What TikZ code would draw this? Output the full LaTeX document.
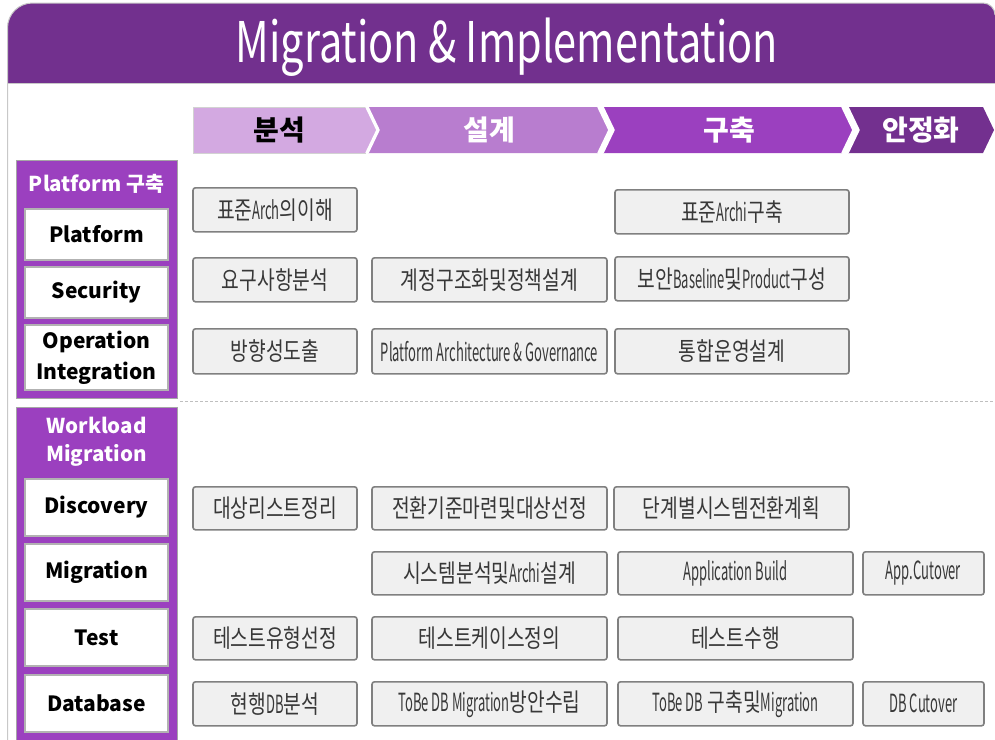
\documentclass[tikz,border=0pt]{standalone}
\usepackage{fontspec}
\setmainfont{Noto Sans CJK KR}
\newfontfamily\kr{Noto Sans CJK KR}
\newfontfamily\krbox[FakeStretch=0.77]{Noto Sans CJK KR}
\newfontfamily\latbox[FakeStretch=0.52]{Noto Sans CJK KR}
\newfontfamily\ttlfont[FakeStretch=0.74]{Noto Sans CJK KR}
\newcommand\latx[1]{{\latbox #1}}
\definecolor{hdr}{HTML}{72308E}
\definecolor{phA}{HTML}{D3A9E1}
\definecolor{phB}{HTML}{B87DCF}
\definecolor{phC}{HTML}{9B40BF}
\definecolor{phD}{HTML}{73308F}
\definecolor{sec}{HTML}{9B40BF}
\definecolor{boxfill}{HTML}{F0F0F0}
\definecolor{boxdraw}{HTML}{808080}
\definecolor{boxtext}{HTML}{383838}
\definecolor{frameln}{HTML}{C8C8C8}
\tikzset{
  gbox/.style={draw=boxdraw, fill=boxfill, line width=1.6pt, rounded corners=2.5pt, inner sep=0pt, text=boxtext, font=\krbox\fontsize{25}{27}\selectfont},
  lbl/.style={draw=gray!60, fill=white, line width=1.2pt, inner sep=0pt, align=center, text=black, font=\kr\bfseries\fontsize{21}{31}\selectfont},
  secbox/.style={draw=gray!70, fill=sec, line width=1pt, inner sep=0pt},
  phase/.style={line width=1.5pt, draw=white},
  phtext/.style={font=\kr\bfseries\fontsize{28}{30}\selectfont},
  sectitle/.style={text=white, align=center, font=\kr\bfseries\fontsize{20.5}{28}\selectfont},
}
\newcommand\gb[6]{\node[gbox,minimum width={(#4-#2)*1pt},minimum height={(#5-#3)*1pt}] (#1) at ({(#2+#4)/2},{(#3+#5)/2+0.8}) {#6};}
\newcommand\lb[6]{\node[lbl,minimum width={(#4-#2)*1pt},minimum height={(#5-#3)*1pt}] (#1) at ({(#2+#4)/2},{(#3+#5)/2}) {#6};}
\begin{document}
\begin{tikzpicture}[x=1pt,y=-1pt]
\useasboundingbox (0,0) rectangle (995,739);
\fill[white] (0,0) rectangle (995,739);
% header
\fill[hdr] (7.5,83) -- (7.5,28) arc[start angle=180,end angle=270,radius=25] -- (983,3) arc[start angle=270,end angle=360,radius=12] -- (995,83) -- cycle;
\draw[frameln, line width=1pt] (7.5,745) -- (7.5,28) arc[start angle=180,end angle=270,radius=25] -- (983,3) arc[start angle=270,end angle=360,radius=12];
\draw[frameln, line width=1pt] (7.5,83.5) -- (995,83.5);
\node[text=white, font=\ttlfont\fontsize{56}{60}\selectfont] (title) at (507,47) {Migration \& Implementation};
% phases
\fill[phA] (193,107) -- (366,107) -- (377,130) -- (366,153) -- (193,153) -- cycle;
\fill[phB] (368,107) -- (598,107) -- (609,130) -- (598,153) -- (368,153) -- (379,130) -- cycle;
\fill[phC] (603,107) -- (842,107) -- (853,130) -- (842,153) -- (603,153) -- (614,130) -- cycle;
\fill[phD] (848,107) -- (983,107) -- (994,130) -- (983,153) -- (848,153) -- (859,130) -- cycle;
\draw[gray!35, line width=0.8pt] (193,153) -- (193,107) -- (366,107);
\draw[gray!35, line width=0.8pt] (193,153) -- (366,153);
\draw[phase] (366,107) -- (377,130) -- (366,153);
\draw[phase] (598,107) -- (609,130) -- (598,153);
\draw[phase] (842,107) -- (853,130) -- (842,153);
\draw[phase] (368,107) -- (379,130) -- (368,153);
\draw[phase] (603,107) -- (614,130) -- (603,153);
\draw[phase] (848,107) -- (859,130) -- (848,153);
\node[phtext, text=black] (p1) at (279,130) {분석};
\node[phtext, text=white] (p2) at (489,130) {설계};
\node[phtext, text=white] (p3) at (729,130) {구축};
\node[phtext, text=white] (p4) at (921,130) {안정화};
% left sections
\node[secbox, minimum width=160.5pt, minimum height=237.5pt] (s1) at (96.75,279.25) {};
\node[sectitle] (s1t) at (96.5,184) {Platform 구축};
\lb{lplat}{25}{209}{168}{260}{Platform}
\lb{lsec}{25}{267}{168}{318}{Security}
\lb{lops}{25}{325}{168}{390}{Operation\\Integration}
\node[secbox, minimum width=160.5pt, minimum height=345pt] (s2) at (96.75,580) {};
\node[sectitle] (s2t) at (96.5,442) {Workload\\Migration};
\lb{ldis}{25}{479}{168}{536}{Discovery}
\lb{lmig}{25}{544}{168}{601}{Migration}
\lb{ltst}{25}{609}{168}{666}{Test}
\lb{ldb}{25}{675}{168}{732}{Database}
% separator
\draw[gray!50, line width=0.8pt, dash pattern=on 3pt off 2pt] (180,401) -- (995,401);
% platform rows
\gb{a1}{193}{187}{357}{231}{표준\latx{Arch}의이해}
\gb{a3}{615}{189}{849}{233}{표준\latx{Archi}구축}
\gb{b1}{193}{257}{357}{301}{요구사항분석}
\gb{b2}{372}{257}{607}{301}{계정구조화및정책설계}
\gb{b3}{615}{256}{849}{300}{보안\latx{Baseline}및\latx{Product}구성}
\gb{c1}{193}{328}{357}{373}{방향성도출}
\gb{c2}{372}{328}{607}{373}{\latx{Platform Architecture \& Governance}}
\gb{c3}{615}{328}{849}{373}{통합운영설계}
% workload rows
\gb{d1}{193}{486}{357}{529}{대상리스트정리}
\gb{d2}{372}{486}{607}{529}{전환기준마련및대상선정}
\gb{d3}{614}{486}{849}{529}{단계별시스템전환계획}
\gb{m2}{372}{551}{607}{594}{시스템분석및\latx{Archi}설계}
\gb{m3}{618}{551}{853}{594}{\latx{Application Build}}
\gb{m4}{863}{551}{984}{594}{\latx{App.Cutover}}
\gb{t1}{193}{616}{357}{659}{테스트유형선정}
\gb{t2}{372}{616}{607}{659}{테스트케이스정의}
\gb{t3}{618}{616}{853}{659}{테스트수행}
\gb{e1}{193}{681}{357}{725}{현행\latx{DB}분석}
\gb{e2}{372}{681}{607}{725}{\latx{ToBe DB Migration}방안수립}
\gb{e3}{618}{681}{853}{725}{\latx{ToBe DB} 구축및\latx{Migration}}
\gb{e4}{863}{681}{984}{725}{\latx{DB Cutover}}
\end{tikzpicture}
\end{document}
